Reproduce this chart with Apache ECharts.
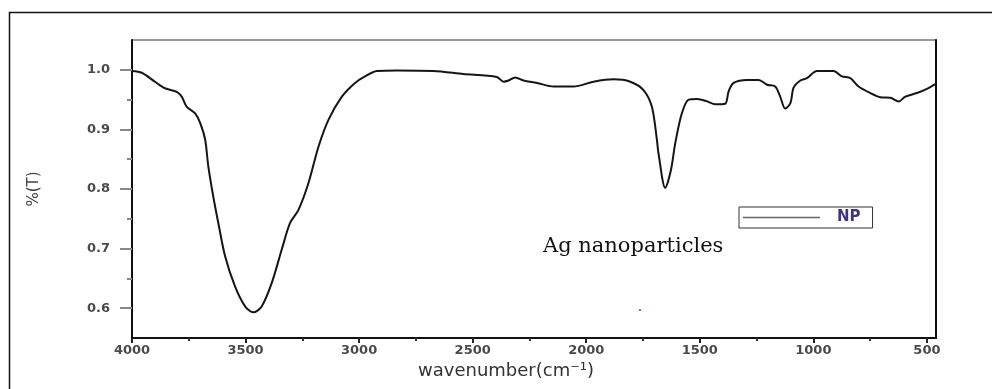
<!DOCTYPE html>
<html>
<head>
<meta charset="utf-8">
<script src="https://cdn.jsdelivr.net/npm/echarts@6/dist/echarts.min.js"></script>
<style>
  html, body { margin: 0; padding: 0; background: #fff; }
  #chart { width: 992px; height: 389px; }
</style>
</head>
<body>
<div id="chart"></div>
<script>
// FTIR spectrum
const wavenumber = [4000, 3957, 3899, 3855, 3803, 3781, 3759, 3722, 3700, 3678,
  3664, 3642, 3620, 3590, 3546, 3502, 3466, 3429, 3385, 3341,
  3304, 3267, 3223, 3179, 3135, 3076, 3018, 2974, 2922, 2834,
  2673, 2541, 2394, 2364, 2342, 2313, 2276, 2217, 2144, 2056,
  1968, 1880, 1806, 1748, 1711, 1689, 1682, 1652, 1627, 1608,
  1579, 1549, 1512, 1468, 1432, 1388, 1373, 1351, 1292, 1241,
  1204, 1168, 1146, 1124, 1101, 1087, 1057, 1028, 984, 911,
  874, 837, 801, 749, 705, 661, 624, 595, 544, 500, 463];
const transmittance = [0.998, 0.995, 0.980, 0.969, 0.963, 0.955, 0.938, 0.927, 0.911, 0.883,
  0.838, 0.787, 0.743, 0.687, 0.636, 0.603, 0.593, 0.603, 0.642, 0.698,
  0.743, 0.765, 0.810, 0.871, 0.916, 0.955, 0.978, 0.989, 0.998, 0.999,
  0.998, 0.993, 0.988, 0.980, 0.982, 0.987, 0.982, 0.978, 0.972, 0.972,
  0.980, 0.984, 0.980, 0.966, 0.938, 0.883, 0.860, 0.802, 0.832, 0.877,
  0.927, 0.950, 0.951, 0.947, 0.942, 0.943, 0.964, 0.978, 0.983, 0.983,
  0.975, 0.972, 0.955, 0.935, 0.944, 0.970, 0.982, 0.986, 0.998, 0.998,
  0.989, 0.986, 0.972, 0.961, 0.954, 0.953, 0.947, 0.955, 0.961, 0.968, 0.976];

const xMajor = [4000, 3500, 3000, 2500, 2000, 1500, 1000, 500];
const xMinor = [3750, 3250, 2750, 2250, 1750, 1250, 750];
const yMajor = [0.6, 0.7, 0.8, 0.9, 1.0];
const yMinor = [0.65, 0.75, 0.85, 0.95];

const labelFont = {
  fontFamily: 'DejaVu Sans',
  fontWeight: 'bold',
  fontSize: 13,
  color: '#4a4a4a'
};

const initChart = () => {
  const chart = echarts.init(document.getElementById('chart'));
  const data = wavenumber.map((w, i) => [w, transmittance[i]]);

  chart.setOption({
    animation: false,
    grid: {
      left: 132, right: 56, top: 40, bottom: 51,
      show: true, borderColor: '#9a9a9a', borderWidth: 2
    },
    legend: {
      left: 739, top: 207,
      padding: [3, 12, 3, 4],
      borderColor: '#333', borderWidth: 1,
      icon: 'rect',
      itemWidth: 77, itemHeight: 1.5, itemGap: 0,
      itemStyle: { color: '#666' },
      textStyle: { fontFamily: 'DejaVu Sans', fontWeight: 'bold', fontSize: 15, color: '#3d3580', padding: [0, 0, 0, 12] },
      data: ['NP']
    },
    xAxis: [
      {
        type: 'value', position: 'bottom', inverse: true,
        min: 460, max: 4000,
        name: 'wavenumber(cm⁻¹)', nameLocation: 'middle', nameGap: 16,
        nameTextStyle: { fontFamily: 'DejaVu Sans', fontSize: 18, color: '#333', padding: [0, 56, 0, 0] },
        axisLine: { show: true, lineStyle: { color: '#111', width: 2 } },
        axisTick: { show: true, length: 5, customValues: xMajor, lineStyle: { color: '#222', width: 2 } },
        axisLabel: Object.assign({ margin: 6, customValues: xMajor, formatter: (v) => String(v) }, labelFont),
        splitLine: { show: false }
      },
      {
        type: 'value', position: 'bottom', inverse: true,
        min: 460, max: 4000,
        axisLine: { show: false },
        axisTick: { show: true, length: 3, customValues: xMinor, lineStyle: { color: '#333', width: 2 } },
        axisLabel: { show: false },
        splitLine: { show: false }
      }
    ],
    yAxis: [
      {
        type: 'value', position: 'left',
        min: 0.55, max: 1.05,
        name: '%(T)', nameLocation: 'middle', nameGap: 90,
        nameTextStyle: { fontFamily: 'DejaVu Sans', fontSize: 15, color: '#444' },
        axisLine: { show: true, lineStyle: { color: '#111', width: 2 } },
        axisTick: { show: true, length: 12, customValues: yMajor, lineStyle: { color: '#888', width: 2 } },
        axisLabel: Object.assign({ margin: 22, customValues: yMajor, formatter: (v) => v.toFixed(1) }, labelFont),
        splitLine: { show: false }
      },
      {
        type: 'value', position: 'left',
        min: 0.55, max: 1.05,
        axisLine: { show: false },
        axisTick: { show: true, length: 5, customValues: yMinor, lineStyle: { color: '#888', width: 2 } },
        axisLabel: { show: false },
        splitLine: { show: false }
      },
      {
        type: 'value', position: 'right',
        min: 0.55, max: 1.05,
        axisLine: { show: true, lineStyle: { color: '#111', width: 2 } },
        axisTick: { show: false },
        axisLabel: { show: false },
        splitLine: { show: false }
      }
    ],
    series: [
      {
        name: 'NP',
        type: 'line',
        xAxisIndex: 0, yAxisIndex: 0,
        data: data,
        symbol: 'none',
        smooth: 0.3,
        lineStyle: { color: '#151515', width: 2 }
      }
    ],
    graphic: [
      {
        type: 'rect', silent: true,
        shape: { x: 9.5, y: 12.5, width: 1000, height: 400 },
        style: { fill: 'none', stroke: '#111', lineWidth: 1.5 }
      },
      {
        type: 'text', left: 543, top: 236, silent: true,
        style: { text: 'Ag nanoparticles', font: '21px "DejaVu Serif"', fill: '#111' }
      },
      {
        type: 'circle', silent: true,
        shape: { cx: 640, cy: 310, r: 1 },
        style: { fill: '#4a4ab0' }
      }
    ]
  });
};

window.addEventListener('load', () => {
  initChart();
});
</script>
</body>
</html>
